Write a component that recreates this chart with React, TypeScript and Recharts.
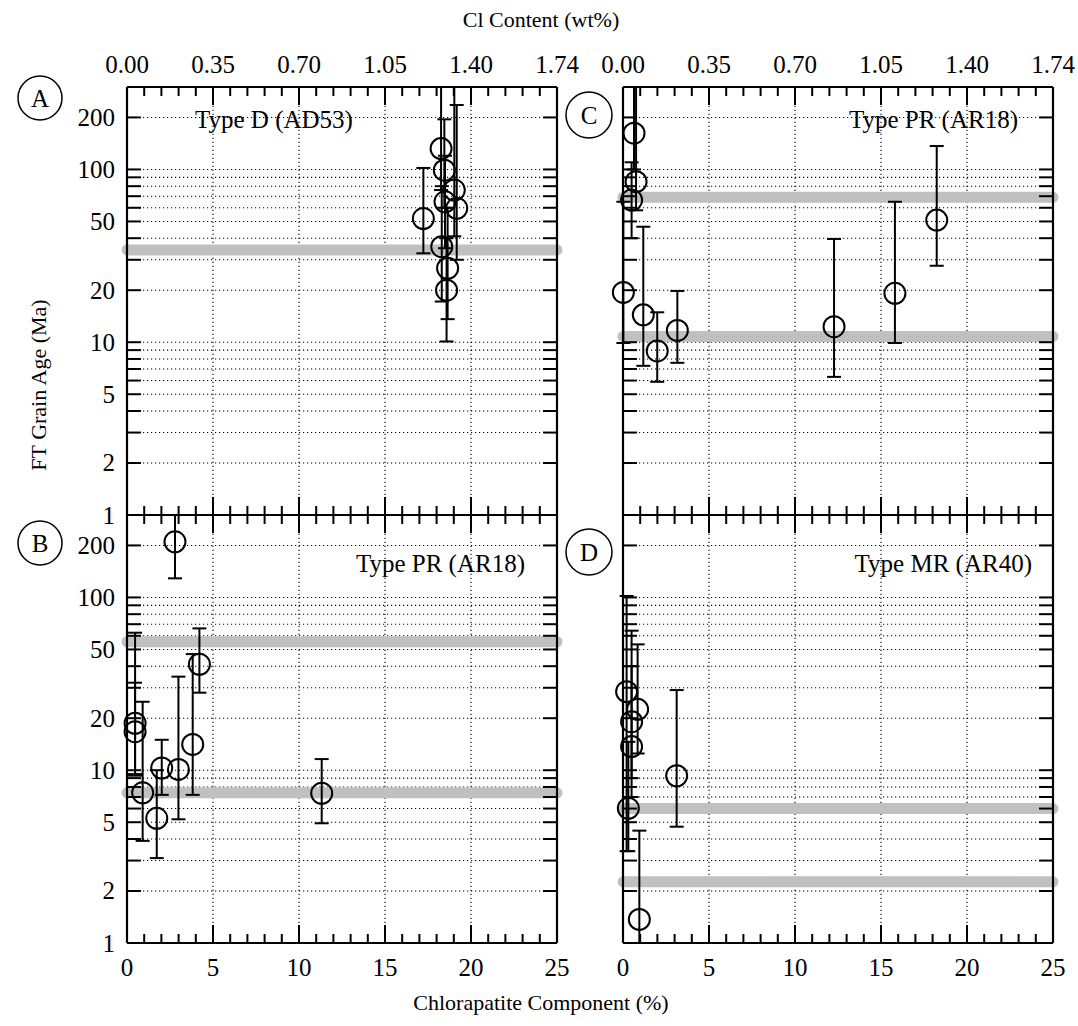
import React from 'react';
import { ScatterChart, Scatter, XAxis, YAxis, CartesianGrid, ReferenceLine, ErrorBar } from 'recharts';

const FONT = '"Liberation Serif", "Times New Roman", serif';
const FS = 25;
const TFS = 22;

const X_TICKS = [0,1,2,3,4,5,6,7,8,9,10,11,12,13,14,15,16,17,18,19,20,21,22,23,24,25];
const X_LABELS = [0, 5, 10, 15, 20, 25];
const CL_LABELS = ['0.00', '0.35', '0.70', '1.05', '1.40', '1.74'];
const X_GRID = [5, 10, 15, 20];
const Y_TICKS = [1,2,3,4,5,6,7,8,9,10,20,30,40,50,60,70,80,90,100,200];
const Y_LABELS = [1, 2, 5, 10, 20, 50, 100, 200];

// Panel A - Type D (AD53)
const A_X = [17.23, 18.26, 18.45, 19.03, 18.49, 19.17, 18.30, 18.64, 18.58];
const A_AGE = [52, 132, 99, 76, 65, 59.6, 35.7, 26.8, 20.0];
const A_LO = [32.7, 76, 60, 41, 35, 30, 17.2, 13.6, 10.1];
const A_HI = [102, 300, 195, 300, 120, 236, 80, 60, 40];
const A_REF = [34.2];

// Panel B - Type PR (AR18)
const B_X = [0.47, 0.47, 0.91, 1.73, 2.02, 2.79, 2.99, 3.82, 4.21, 11.32];
const B_AGE = [18.7, 16.7, 7.4, 5.27, 10.3, 210, 10.1, 14.1, 41.0, 7.35];
const B_LO = [9.5, 9.3, 3.9, 3.1, 7.2, 129, 5.2, 7.2, 28.1, 4.93];
const B_HI = [62.5, 32.1, 24.9, 10.0, 15.0, 300, 34.8, 47, 66.2, 11.6];
const B_REF = [55.4, 7.4];

// Panel C - Type PR (AR18)
const C_X = [0.02, 0.50, 0.64, 0.76, 1.18, 1.99, 3.16, 12.27, 15.81, 18.24];
const C_AGE = [19.4, 66.5, 162, 85, 14.4, 8.9, 11.7, 12.3, 19.2, 50.9];
const C_LO = [9.9, 40, 100, 58, 7.3, 5.9, 7.6, 6.3, 9.9, 27.7];
const C_HI = [65, 110, 300, 300, 46.6, 14.9, 19.8, 39.6, 65, 136.6];
const C_REF = [69, 10.8];

// Panel D - Type MR (AR40)
const D_X = [0.21, 0.31, 0.50, 0.50, 0.85, 0.95, 3.12];
const D_AGE = [28.5, 6.02, 19.1, 13.7, 22.5, 1.37, 9.29];
const D_LO = [3.4, 3.4, 9.0, 7.0, 12.5, 1.0, 4.71];
const D_HI = [102, 14.6, 64.2, 40, 53.5, 4.47, 29.1];
const D_REF = [6.0, 2.26];

const PW = 430;
const PH = 428;

const makeYTick = (showLabels: boolean) => (props: any) => {
  const { x, y, payload } = props;
  const v = payload.value;
  const L = 14;
  return (
    <g>
      <line x1={x} x2={x + L} y1={y} y2={y} stroke="#000" strokeWidth={2} />
      <line x1={x + PW - L} x2={x + PW} y1={y} y2={y} stroke="#000" strokeWidth={2} />
      {showLabels && Y_LABELS.includes(v) && (
        <text x={x - 12} y={y} textAnchor="end" dominantBaseline="central" fontFamily={FONT} fontSize={FS} fill="#000">
          {v}
        </text>
      )}
    </g>
  );
};

const makeXTick = (mode: 'top' | 'bottom') => (props: any) => {
  const { x, y, payload } = props;
  const v = payload.value;
  const major = v % 5 === 0;
  const L = major ? 18 : 9;
  const idx = X_LABELS.indexOf(v);
  return (
    <g>
      <line x1={x} x2={x} y1={y} y2={y - L} stroke="#000" strokeWidth={2} />
      <line x1={x} x2={x} y1={y - PH} y2={y - PH + L} stroke="#000" strokeWidth={2} />
      {mode === 'bottom' && idx >= 0 && (
        <text x={x} y={y + 33} textAnchor="middle" fontFamily={FONT} fontSize={FS} fill="#000">{v}</text>
      )}
      {mode === 'top' && idx >= 0 && (
        <text x={x} y={y - PH - 14} textAnchor="middle" fontFamily={FONT} fontSize={FS} fill="#000">{CL_LABELS[idx]}</text>
      )}
    </g>
  );
};

const renderCircle = (p: any) => (
  <circle cx={p.cx} cy={p.cy} r={10.5} fill="none" stroke="#000" strokeWidth={2} />
);

type PanelProps = {
  left: number; top: number; width: number; height: number;
  margin: { top: number; right: number; bottom: number; left: number };
  xs: number[]; ages: number[]; los: number[]; his: number[]; refs: number[];
  yLabels: boolean; xMode: 'top' | 'bottom';
};

function Panel({ left, top, width, height, margin, xs, ages, los, his, refs, yLabels, xMode }: PanelProps) {
  const data = xs.map((x, i) => ({ x, age: ages[i], err: [ages[i] - los[i], his[i] - ages[i]] }));
  return (
    <div style={{ position: 'absolute', left, top, width, height }}>
      <ScatterChart width={width} height={height} margin={margin}>
        <CartesianGrid vertical={false} stroke="#000" strokeDasharray="1.2 2.8" strokeWidth={1.1} />
        <XAxis type="number" dataKey="x" domain={[0, 25]} ticks={X_TICKS} interval={0} height={1}
          tickSize={0} tickMargin={0} axisLine={false} tickLine={false} tick={makeXTick(xMode)} />
        <YAxis type="number" dataKey="age" scale="log" domain={[1, 300]} allowDataOverflow ticks={Y_TICKS}
          interval={0} width={1} tickSize={0} tickMargin={0} axisLine={false} tickLine={false} tick={makeYTick(yLabels)} />
        {X_GRID.map((v) => (
          <ReferenceLine key={'g' + v} x={v} stroke="#000" strokeDasharray="1.2 2.8" strokeWidth={1.1} />
        ))}
        {refs.map((v) => (
          <ReferenceLine key={'r' + v} y={v} stroke="#c0c0c0" strokeWidth={11} strokeLinecap="round" />
        ))}
        <ReferenceLine x={0} stroke="#000" strokeWidth={2.2} />
        <ReferenceLine x={25} stroke="#000" strokeWidth={2.2} />
        <ReferenceLine y={1} stroke="#000" strokeWidth={2.2} />
        <ReferenceLine y={300} stroke="#000" strokeWidth={2.2} />
        <Scatter data={data} isAnimationActive={false} shape={renderCircle}>
          <ErrorBar dataKey="err" direction="y" width={7} stroke="#000" strokeWidth={2} isAnimationActive={false} />
        </Scatter>
      </ScatterChart>
    </div>
  );
}

const txt = { fontFamily: FONT, fontSize: FS, fill: '#000' } as const;
const ttl = { fontFamily: FONT, fontSize: TFS, fill: '#000' } as const;

export default function App() {
  return (
    <div style={{ position: 'absolute', left: 0, top: 0, width: 1078, height: 1026, background: '#fff' }}>
      <Panel left={0} top={0} width={600} height={530} margin={{ top: 87, left: 126, right: 43, bottom: 14 }}
        xs={A_X} ages={A_AGE} los={A_LO} his={A_HI} refs={A_REF} yLabels xMode="top" />
      <Panel left={0} top={500} width={600} height={526} margin={{ top: 15, left: 126, right: 43, bottom: 82 }}
        xs={B_X} ages={B_AGE} los={B_LO} his={B_HI} refs={B_REF} yLabels xMode="bottom" />
      <Panel left={560} top={0} width={518} height={530} margin={{ top: 87, left: 62, right: 25, bottom: 14 }}
        xs={C_X} ages={C_AGE} los={C_LO} his={C_HI} refs={C_REF} yLabels={false} xMode="top" />
      <Panel left={560} top={500} width={518} height={526} margin={{ top: 15, left: 62, right: 25, bottom: 82 }}
        xs={D_X} ages={D_AGE} los={D_LO} his={D_HI} refs={D_REF} yLabels={false} xMode="bottom" />
      <svg width={1078} height={1026} style={{ position: 'absolute', left: 0, top: 0, pointerEvents: 'none' }}>
        <text x={541} y={27} textAnchor="middle" {...ttl}>Cl Content (wt%)</text>
        <text x={541} y={1010} textAnchor="middle" {...ttl}>Chlorapatite Component (%)</text>
        <text x={38} y={385} textAnchor="middle" dominantBaseline="central" transform="rotate(-90 38 385)" {...ttl}>FT Grain Age (Ma)</text>
        <circle cx={40} cy={98} r={22} fill="none" stroke="#000" strokeWidth={1.5} />
        <text x={40} y={98} textAnchor="middle" dominantBaseline="central" {...txt}>A</text>
        <circle cx={40} cy={543} r={22} fill="none" stroke="#000" strokeWidth={1.5} />
        <text x={40} y={543} textAnchor="middle" dominantBaseline="central" {...txt}>B</text>
        <circle cx={589} cy={115} r={23} fill="none" stroke="#000" strokeWidth={1.5} />
        <text x={589} y={115} textAnchor="middle" dominantBaseline="central" {...txt}>C</text>
        <circle cx={589} cy={552} r={23} fill="none" stroke="#000" strokeWidth={1.5} />
        <text x={589} y={552} textAnchor="middle" dominantBaseline="central" {...txt}>D</text>
        <text x={195} y={128} {...txt}>Type D (AD53)</text>
        <text x={1018} y={128} textAnchor="end" {...txt}>Type PR (AR18)</text>
        <text x={525} y={572} textAnchor="end" {...txt}>Type PR (AR18)</text>
        <text x={1032} y={572} textAnchor="end" {...txt}>Type MR (AR40)</text>
      </svg>
    </div>
  );
}
